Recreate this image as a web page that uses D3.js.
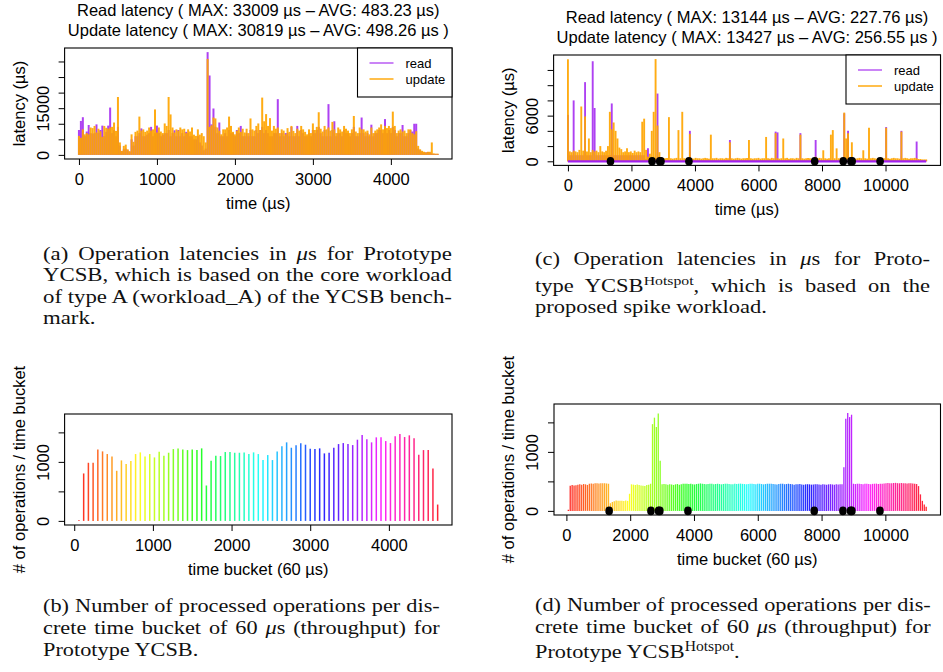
<!DOCTYPE html>
<html lang="en">
<head>
<meta charset="utf-8">
<title>YCSB latency and throughput</title>
<style>
  body {margin: 0; background: #fff;}
  svg  {display: block;}
</style>
</head>
<body>

<svg id="fig" width="943" height="672" viewBox="0 0 943 672"></svg>

<script src="https://d3js.org/d3.v7.min.js"></script>
<script>
// ---------- data ----------

// (a) latencies, Prototype YCSB, one sample every 25 µs from 0 to 4600
const latAStep = 25;
const latARead = [
  8000, 10900, 12100, 6000, 7500, 9600, 7000, 6800, 7000, 9800,
  7000, 8000, 9400, 6000, 7400, 9400, 15200, 7000, 8000, 6000,
  9000, 3000, 1200, 1800, 2000, 1500, 1000, 5000, 3000, 6000,
  6000, 7000, 8500, 6000, 6000, 6500, 7000, 9000, 6000, 7000,
  9400, 7000, 6000, 6500, 7000, 7000, 8000, 6000, 7000, 7900,
  6000, 8000, 6000, 7000, 6000, 7400, 7000, 6000, 6000, 5000,
  5000, 6000, 4000, 3000, 1500, 2000, 33009, 25500, 9800, 14900,
  9000, 7000, 10400, 6000, 6000, 7000, 6000, 8000, 7000, 7000,
  6000, 8000, 7000, 9300, 6000, 6000, 7000, 6000, 8000, 6000,
  6000, 8000, 7000, 8000, 9000, 7000, 8000, 7000, 6000, 6000,
  7000, 7000, 17900, 6000, 7000, 6000, 7000, 7000, 6000, 9000,
  6000, 6000, 9300, 6000, 8000, 7000, 6000, 6000, 7000, 6000,
  8000, 7000, 8000, 9000, 7000, 6000, 8000, 6000, 16300, 6000,
  8000, 10800, 6000, 7000, 7000, 6000, 8000, 7000, 7000, 6000,
  7000, 9000, 6000, 6000, 7000, 12000, 7000, 6000, 7000, 6000,
  9700, 6000, 7000, 7000, 8000, 8000, 7000, 11500, 7000, 8000,
  7000, 9000, 8000, 6000, 7000, 7000, 9600, 6000, 6000, 7000,
  8000, 7500, 10000, 10000, 2000, 1500, 1000, 800, 800, 900,
  800, 400, 300, 300, 300
];
const latAUpdate = [
  6100, 5500, 8200, 6600, 7000, 6600, 8800, 8600, 9300, 7200,
  8400, 7600, 5800, 9300, 8700, 8400, 8800, 9000, 10400, 7700,
  18600, 4000, 1300, 2900, 3300, 1800, 1200, 6600, 4200, 7400,
  7800, 12300, 7800, 8200, 7400, 7800, 8800, 7800, 8200, 14600,
  7200, 8800, 7500, 7000, 10100, 9300, 18600, 13000, 8800, 7200,
  8200, 7800, 8800, 8200, 8400, 7000, 8200, 7500, 8800, 6500,
  6100, 8200, 6500, 7000, 6000, 4000, 30819, 9000, 9500, 12000,
  11700, 8800, 7800, 6600, 8200, 8200, 8800, 12300, 9300, 7400,
  6600, 7800, 8800, 7400, 8400, 7200, 8400, 7000, 11700, 8200,
  7800, 9300, 10100, 8000, 18400, 10800, 13100, 9300, 11800, 7800,
  9300, 8400, 8800, 7000, 8200, 7800, 6600, 8600, 7400, 9300,
  7700, 7000, 8400, 7800, 9300, 8200, 7400, 6600, 8200, 7000,
  10100, 8000, 9000, 13700, 8400, 7500, 9300, 8200, 8800, 7800,
  10600, 8200, 7000, 8800, 8200, 7500, 9300, 8400, 7800, 7000,
  8200, 12500, 7500, 7000, 8800, 8200, 8200, 7500, 7800, 6600,
  8800, 7000, 7800, 8200, 8800, 9800, 8200, 9300, 8600, 9300,
  8600, 13900, 9300, 7000, 7800, 8200, 7500, 7800, 7000, 8200,
  8200, 7000, 6600, 7600, 2900, 1800, 1300, 1000, 800, 1000,
  1000, 4000, 500, 400, 400
];

// (c) latencies, Prototype YCSB Hotspot, one sample every 60 µs from 0 to 11280
const latCStep = 60;
const latCRead = [
  6100, 800, 800, 8000, 800, 800, 800, 800, 800, 10400,
  800, 800, 800, 13144, 7000, 800, 800, 800, 800, 800,
  800, 800, 800, 7600, 800, 800, 800, 800, 800, 800,
  800, 800, 800, 800, 800, 800, 800, 800, 800, 800,
  800, 300, 1700, 300, 300, 300, 300, 8900, 300, 150,
  150, 150, 150, 150, 150, 150, 150, 150, 150, 150,
  150, 150, 150, 150, 4000, 150, 150, 150, 150, 150,
  150, 150, 150, 150, 150, 150, 150, 150, 150, 150,
  150, 150, 150, 150, 150, 2800, 150, 150, 150, 150,
  150, 150, 150, 150, 150, 150, 150, 150, 150, 150,
  150, 150, 150, 150, 150, 150, 150, 150, 150, 3900,
  3800, 150, 150, 150, 150, 150, 150, 150, 150, 150,
  150, 150, 3700, 150, 150, 150, 150, 150, 150, 150,
  2800, 150, 150, 150, 150, 150, 150, 150, 150, 150,
  150, 150, 150, 150, 150, 6300, 150, 4000, 150, 150,
  150, 150, 150, 150, 150, 150, 150, 150, 150, 150,
  150, 150, 150, 150, 150, 150, 150, 4500, 150, 150,
  150, 150, 150, 150, 150, 4000, 150, 150, 150, 150,
  150, 150, 150, 2600, 150, 150, 150, 150, 150
];
const latCUpdate = [
  13400, 1300, 1200, 1400, 1300, 1200, 1500, 7200, 1400, 5900,
  1300, 3000, 1200, 1500, 1300, 1400, 1200, 2000, 1300, 1200,
  1400, 2000, 6500, 4200, 5100, 4000, 3000, 1800, 1600, 1200,
  1300, 1700, 1200, 1300, 1100, 1400, 1200, 1300, 1200, 5200,
  5600, 1500, 600, 1000, 4000, 6500, 13427, 4700, 1200, 500,
  400, 400, 450, 5800, 400, 350, 400, 450, 4100, 400,
  6500, 400, 350, 400, 3600, 400, 350, 450, 400, 400,
  350, 400, 450, 400, 350, 3500, 400, 400, 450, 350,
  400, 400, 350, 450, 400, 2500, 400, 350, 400, 450,
  400, 350, 400, 400, 450, 2800, 400, 350, 400, 400,
  450, 350, 400, 400, 3200, 400, 350, 450, 400, 3700,
  400, 350, 400, 3000, 400, 450, 350, 400, 400, 350,
  450, 400, 3500, 400, 350, 400, 450, 400, 350, 400,
  600, 400, 450, 400, 1450, 400, 350, 400, 3500, 4100,
  400, 1700, 400, 450, 400, 6400, 3000, 3700, 400, 2500,
  400, 350, 400, 450, 400, 1450, 400, 350, 4400, 400,
  450, 400, 350, 400, 400, 450, 400, 4400, 400, 350,
  400, 450, 400, 400, 350, 3900, 400, 450, 400, 350,
  400, 400, 450, 400, 300, 300, 250, 250, 250
];

// time positions of the spike markers in (c) and (d)
const spikeMarks = [1340, 2650, 2890, 2930, 3810, 7770, 8670, 8910, 8950, 9830];

// (b) operations per 60 µs bucket, Prototype YCSB (buckets 60 .. 4620)
const bucketStep = 60;
const opsB = [
  11, 804, 985, 985, 1212, 1178, 1133, 1093, 849, 1025,
  963, 1014, 1133, 1161, 1093, 1133, 1076, 1172, 1104, 1155,
  1217, 1229, 1212, 1200, 1212, 1200, 1229, 600, 1019, 1104,
  1099, 1167, 1167, 1155, 1155, 1161, 1133, 1161, 1133, 1031,
  1116, 1031, 1178, 1263, 1331, 1240, 1280, 1314, 1291, 1223,
  1217, 1229, 1144, 1155, 1240, 1302, 1319, 1302, 1285, 1376,
  1455, 1382, 1331, 1416, 1416, 1353, 1319, 1433, 1472, 1421,
  1450, 1399, 1121, 1200, 1200, 889, 277
];

// (d) operations per 60 µs bucket, Prototype YCSB Hotspot (buckets 60 .. 11280)
const opsD = [
  20,
  425, 440, 430, 435, 445, 450, 445, 455, 450, 440,
  460, 465, 460, 470, 468, 465, 470, 468, 470, 465, 460,
  130, 150,
  165, 175, 170, 172, 170, 168, 175, 170,
  290,
  450, 445, 440, 448, 440, 430, 425, 420, 440, 445,
  460,
  1470, 1580, 1420, 1650, 850,
  450,
  455, 450, 445, 452, 448, 440, 450, 455, 445, 450,
  460, 462, 458, 455, 460, 452, 448, 455, 460, 465,
  458, 455, 450, 455, 460, 458, 452, 455, 460, 455,
  450, 455, 458, 460, 455, 450, 452, 458, 455, 460,
  462, 458, 455, 450, 455, 460, 458, 455, 452, 458,
  460, 455, 450, 455, 458, 462, 460, 455, 450, 448,
  455, 460, 458, 452, 455, 460, 455, 450, 445, 450,
  452, 455, 448, 445, 450, 452, 450, 445, 448, 450,
  452, 448, 445, 450, 448, 445, 450, 452, 448, 445,
  450, 448, 452, 450,
  740, 1560, 1660, 1590, 1630,
  460, 455, 458, 460, 455, 452, 458, 460, 455, 450,
  458, 460, 462, 455, 458, 460, 465, 470, 472, 470,
  468, 472, 475, 470, 468, 472, 470, 468, 465, 470,
  468, 465, 460, 455,
  420, 280, 170, 110, 70
];
const opsYLim = [0, 1742];

// axes, labels and text
const latAXTicks = [0, 1000, 2000, 3000, 4000];
const latAYTicks = [0, 5000, 10000, 15000, 20000, 25000, 30000];
const latAYLabels = [0, 15000];
const latCXTicks = [0, 2000, 4000, 6000, 8000, 10000];
const latCYTicks = [0, 2000, 4000, 6000, 8000, 10000, 12000];
const latCYLabels = [0, 6000];
const opsBXTicks = [0, 1000, 2000, 3000, 4000];
const opsDXTicks = [0, 2000, 4000, 6000, 8000, 10000];
const opsYTicks = [0, 500, 1000, 1500];
const opsYLabels = [0, 1000];

const legendLabels = ["read", "update"];
const titleA = ["Read latency ( MAX: 33009 µs – AVG: 483.23 µs)",
                "Update latency ( MAX: 30819 µs – AVG: 498.26 µs )"];
const titleC = ["Read latency ( MAX: 13144 µs – AVG: 227.76 µs)",
                "Update latency ( MAX: 13427 µs – AVG: 256.55 µs )"];

const capA = ["(a) Operation latencies in $μ$s for Prototype",
              "YCSB, which is based on the core workload",
              "of type A (workload_A) of the YCSB bench-",
              "mark."];
const capC = ["(c) Operation latencies in $μ$s for Proto-",
              "type YCSB^{Hotspot}, which is based on the",
              "proposed spike workload."];
const capB = ["(b) Number of processed operations per dis-",
              "crete time bucket of 60 $μ$s (throughput) for",
              "Prototype YCSB."];
const capD = ["(d) Number of processed operations per dis-",
              "crete time bucket of 60 $μ$s (throughput) for",
              "Prototype YCSB^{Hotspot}."];

// ---------- drawing ----------
const SANS  = "'Liberation Sans', Arial, Helvetica, sans-serif";
const SERIF = "'Liberation Serif', 'Times New Roman', serif";
const PURPLE = "#a020f0", ORANGE = "#ffa500";
const FS = 16.5;

const svg = d3.select("#fig");
svg.append("rect").attr("width", 943).attr("height", 672).attr("fill", "#fff");

// R style: 4% padding on each side of the data range
function padded([a, b]) { const d = (b - a) * 0.04; return [a - d, b + d]; }

function frame(o) {
  const g = svg.append("g");
  const x = d3.scaleLinear().domain(padded(o.xLim)).range([o.left, o.right]);
  const y = d3.scaleLinear().domain(padded(o.yLim)).range([o.bottom, o.top]);
  return {g, x, y};
}

function decorate(p, o) {
  const {g, x, y} = p;
  g.append("rect")
    .attr("x", o.left).attr("y", o.top)
    .attr("width", o.right - o.left).attr("height", o.bottom - o.top)
    .attr("fill", "none").attr("stroke", "#000").attr("stroke-width", 1.1);

  const xa = g.append("g").attr("transform", `translate(0,${o.bottom})`)
    .call(d3.axisBottom(x).tickValues(o.xTicks).tickSize(6).tickPadding(8)
      .tickFormat(d3.format("d")));
  xa.attr("font-size", FS).attr("font-family", SANS);
  xa.select(".domain").remove();

  const ya = g.append("g").attr("transform", `translate(${o.left},0)`)
    .call(d3.axisLeft(y).tickValues(o.yTicks).tickSize(6)
      .tickFormat(d => o.yLabels.includes(d) ? String(d) : ""));
  ya.attr("font-size", FS).attr("font-family", SANS);
  ya.select(".domain").remove();
  ya.selectAll("text")
    .attr("transform", "rotate(-90)")
    .attr("x", 0).attr("y", -16).attr("dy", null)
    .attr("text-anchor", "middle");

  g.append("text")
    .attr("x", (o.left + o.right) / 2).attr("y", o.bottom + 50)
    .attr("text-anchor", "middle").attr("font-family", SANS).attr("font-size", FS)
    .text(o.xTitle);
  g.append("text")
    .attr("transform", `translate(${o.left - 40},${(o.top + o.bottom) / 2}) rotate(-90)`)
    .attr("text-anchor", "middle").attr("font-family", SANS).attr("font-size", FS)
    .text(o.yTitle);

  if (o.title) {
    o.title.forEach((t, i) => g.append("text")
      .attr("x", (o.left + o.right) / 2).attr("y", o.top - 32 + i * 20)
      .attr("text-anchor", "middle").attr("font-family", SANS).attr("font-size", FS)
      .text(t));
  }
}

function legend(g, o) {
  const x0 = o.right - 94.5, y0 = o.top, h = 49;
  g.append("rect").attr("x", x0).attr("y", y0).attr("width", 94.5).attr("height", h)
    .attr("fill", "#fff").attr("stroke", "#000").attr("stroke-width", 1.1);
  const cols = [PURPLE, ORANGE];
  legendLabels.forEach((lab, i) => {
    const yy = y0 + 15 + i * 16;
    g.append("line").attr("x1", x0 + 12).attr("x2", x0 + 36).attr("y1", yy).attr("y2", yy)
      .attr("stroke", cols[i]).attr("stroke-width", 2).attr("opacity", i ? 0.7 : 0.55);
    g.append("text").attr("x", x0 + 48).attr("y", yy + 4.5)
      .attr("font-family", SANS).attr("font-size", 13).text(lab);
  });
}

function latencyPanel(o, read, update, step, lw, floor) {
  const times = read.map((_, i) => i * step);
  o.xLim = [0, d3.max(times)];
  o.yLim = [0, d3.max(read.concat(update))];
  const p = frame(o);
  const {g, x, y} = p;
  [[read, PURPLE, 0.85], [update, ORANGE, 0.92]].forEach(([vals, col, op]) => {
    g.append("g").selectAll("line").data(vals).join("line")
      .attr("x1", (d, i) => x(times[i])).attr("x2", (d, i) => x(times[i]))
      .attr("y1", y(0)).attr("y2", d => y(d))
      .attr("stroke", col).attr("stroke-width", lw).attr("opacity", op);
  });
  if (floor) {
    g.append("line").attr("x1", x(0)).attr("x2", x(d3.max(times)))
      .attr("y1", y(0)).attr("y2", y(0))
      .attr("stroke", PURPLE).attr("stroke-width", 2.2);
  }
  return p;
}

function opsPanel(o, ops, lw) {
  const times = ops.map((_, i) => (i + 1) * bucketStep);
  o.xLim = [d3.min(times), d3.max(times)];
  o.yLim = opsYLim;
  const p = frame(o);
  const {g, x, y} = p;
  const n = ops.length;
  g.append("g").selectAll("line").data(ops).join("line")
    .attr("x1", (d, i) => x(times[i])).attr("x2", (d, i) => x(times[i]))
    .attr("y1", y(0)).attr("y2", d => y(d))
    .attr("stroke", (d, i) => d3.hsl(i / n * 360, 1, 0.5))
    .attr("stroke-width", lw).attr("opacity", 0.85);
  return p;
}

function marks(p) {
  p.g.append("g").selectAll("ellipse").data(spikeMarks).join("ellipse")
    .attr("cx", d => p.x(d)).attr("cy", p.y(0))
    .attr("rx", 3.8).attr("ry", 4.3).attr("fill", "#000");
}

// (a)
const oA = {left: 64.6, right: 452, top: 48, bottom: 159,
  xTicks: latAXTicks, yTicks: latAYTicks, yLabels: latAYLabels,
  xTitle: "time (µs)", yTitle: "latency (µs)", title: titleA};
const pA = latencyPanel(oA, latARead, latAUpdate, latAStep, 2.0, false);
decorate(pA, oA);
legend(pA.g, oA);

// (c)
const oC = {left: 553.6, right: 940.5, top: 55, bottom: 165.4,
  xTicks: latCXTicks, yTicks: latCYTicks, yLabels: latCYLabels,
  xTitle: "time (µs)", yTitle: "latency (µs)", title: titleC};
const pC = latencyPanel(oC, latCRead, latCUpdate, latCStep, 1.9, true);
marks(pC);
decorate(pC, oC);
legend(pC.g, oC);

// (b)
const oB = {left: 64.6, right: 452, top: 414, bottom: 525,
  xTicks: opsBXTicks, yTicks: opsYTicks, yLabels: opsYLabels,
  xTitle: "time bucket (60 µs)", yTitle: "# of operations / time bucket"};
const pB = opsPanel(oB, opsB, 1.5);
decorate(pB, oB);

// (d)
const oD = {left: 554, right: 940.5, top: 404, bottom: 515,
  xTicks: opsDXTicks, yTicks: opsYTicks, yLabels: opsYLabels,
  xTitle: "time bucket (60 µs)", yTitle: "# of operations / time bucket"};
const pD = opsPanel(oD, opsD, 1.3);
marks(pD);
decorate(pD, oD);

// captions: justified lines, "$..$" italic, "^{..}" superscript.
// Horizontal glyph scale: line `calib` gets width `calibW`, but never so wide
// that a justified line would need negative word spacing.
function caption(lines, x0, x1, baselines, size, calib, calibW) {
  const texts = lines.map((src, i) => {
    const t = svg.append("text")
      .attr("font-family", SERIF).attr("font-size", size).attr("fill", "#111");
    let sup = false;
    src.split(/(\$[^$]+\$|\^\{[^}]+\})/).filter(s => s).forEach(s => {
      const ts = t.append("tspan");
      if (s[0] === "^") {
        ts.text(s.slice(2, -1)).attr("font-size", size * 0.7).attr("dy", -7);
        sup = true;
        return;
      }
      if (s[0] === "$") ts.text(s.slice(1, -1)).attr("font-style", "italic");
      else ts.text(s);
      if (sup) { ts.attr("dy", 7); sup = false; }
    });
    return t;
  });
  const nat = texts.map(t => t.node().getComputedTextLength());
  let sx = calibW / nat[calib];
  nat.slice(0, -1).forEach(w => { sx = Math.min(sx, (x1 - x0) / w); });
  texts.forEach((t, i) => {
    t.attr("transform", `translate(${x0},${baselines[i]}) scale(${sx},1)`);
    if (i < lines.length - 1) {
      const spaces = (lines[i].match(/ /g) || []).length;
      t.style("word-spacing", ((((x1 - x0) / sx) - nat[i]) / spaces) + "px");
    }
  });
}

caption(capA, 43, 452, [260, 281, 303, 324], 19, 0, 404);
caption(capC, 535, 930, [265, 292, 313], 19, 2, 232);
caption(capB, 43, 440, [612, 634, 656], 19.5, 0, 394);
caption(capD, 535, 931, [611, 633, 658], 19.5, 0, 394);
</script>

</body>
</html>
